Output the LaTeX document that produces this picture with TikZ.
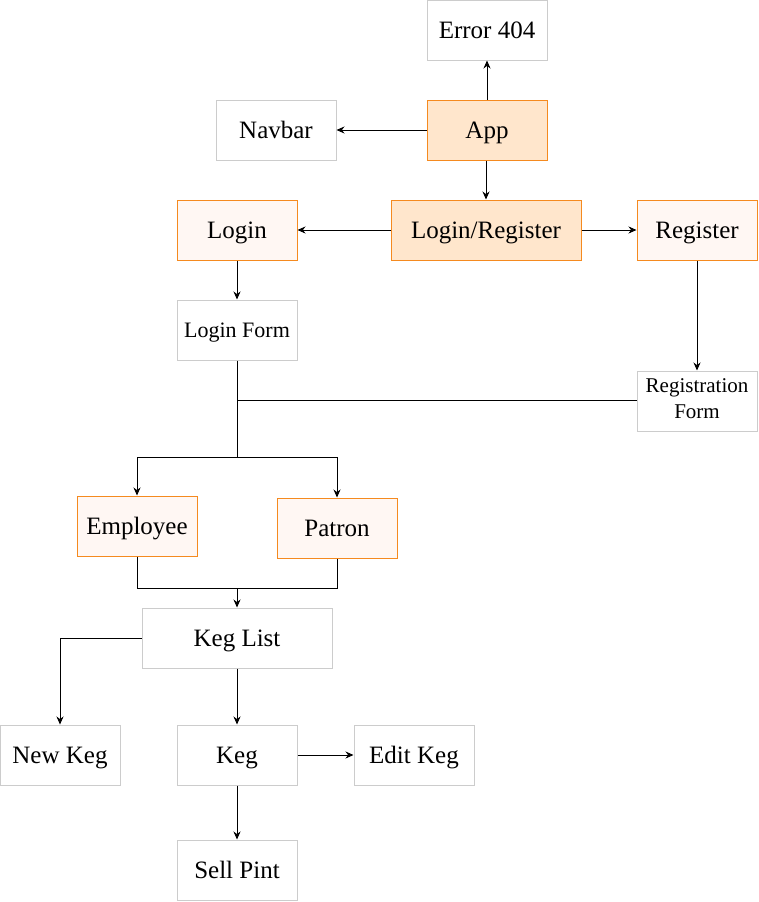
\documentclass[tikz,border=0pt]{standalone}
\usepackage{fontspec}
\setmainfont{Liberation Serif}
\usetikzlibrary{arrows.meta}
\definecolor{orng}{HTML}{F58A1F}
\definecolor{peach}{HTML}{FFE6CC}
\definecolor{lightpeach}{HTML}{FFF7F3}
\definecolor{gbord}{HTML}{CCCCCC}
\begin{document}
\begin{tikzpicture}[x=1pt,y=-1pt,
  base/.style={rectangle, inner sep=0pt, minimum height=60pt, align=center, font=\fontsize{25}{28}\selectfont, line width=1pt},
  plain/.style={base, draw=gbord, fill=white},
  hot/.style={base, draw=orng, fill=peach},
  warm/.style={base, draw=orng, fill=lightpeach},
  one/.style={text height=19pt, text depth=3pt},
  small/.style={font=\fontsize{22}{25}\selectfont},
  conn/.style={draw=black, line width=0.9pt},
  arr/.style={conn, -{Stealth[length=8pt,width=7pt]}}
]
\useasboundingbox (0,0) rectangle (758,902);
\node[plain, one, minimum width=120pt] (err) at (487,30) {Error 404};
\node[plain, one, minimum width=120pt] (nav) at (276,130) {Navbar};
\node[hot, one, minimum width=120pt] (app) at (487,130) {App};
\node[hot, one, minimum width=190pt] (lr) at (486,230) {Login/Register};
\node[warm, one, minimum width=120pt] (login) at (237,230) {Login};
\node[warm, one, minimum width=120pt] (reg) at (697,230) {Register};
\node[plain, small, minimum width=120pt, text height=17pt, text depth=2pt] (lform) at (237,330) {Login Form};
\node[plain, minimum width=120pt, font=\fontsize{21}{26}\selectfont, text depth=4pt] (rform) at (697,401) {Registration\\Form};
\node[warm, one, minimum width=120pt] (emp) at (137,526) {Employee};
\node[warm, one, minimum width=120pt] (pat) at (337,528) {Patron};
\node[plain, one, minimum width=190pt] (kl) at (237,638) {Keg List};
\node[plain, one, minimum width=120pt] (nk) at (60,755) {New Keg};
\node[plain, one, minimum width=120pt] (keg) at (237,755) {Keg};
\node[plain, one, minimum width=120pt] (ek) at (414,755) {Edit Keg};
\node[plain, one, minimum width=120pt] (sp) at (237,870) {Sell Pint};
\coordinate (j1) at (237,400);
\coordinate (j2) at (237,457);
\coordinate (j3) at (237,588);
\draw[arr] (app) -- (err);
\draw[arr] (app) -- (nav);
\draw[arr] (app.south -| lr.north) -- (lr);
\draw[arr] (lr) -- (login);
\draw[arr] (lr) -- (reg);
\draw[arr] (login) -- (lform);
\draw[arr] (reg) -- (rform);
\draw[conn] (lform.south) -- (j2);
\draw[conn] (rform.west |- j1) -- (j1);
\draw[arr] (j2) -| (emp.north);
\draw[arr] (j2) -| (pat.north);
\draw[conn] (emp.south) |- (j3);
\draw[conn] (pat.south) |- (j3);
\draw[arr] (j3) -- (kl.north);
\draw[arr] (kl.west) -| (nk.north);
\draw[arr] (kl) -- (keg);
\draw[arr] (keg) -- (ek);
\draw[arr] (keg) -- (sp);
\end{tikzpicture}
\end{document}
